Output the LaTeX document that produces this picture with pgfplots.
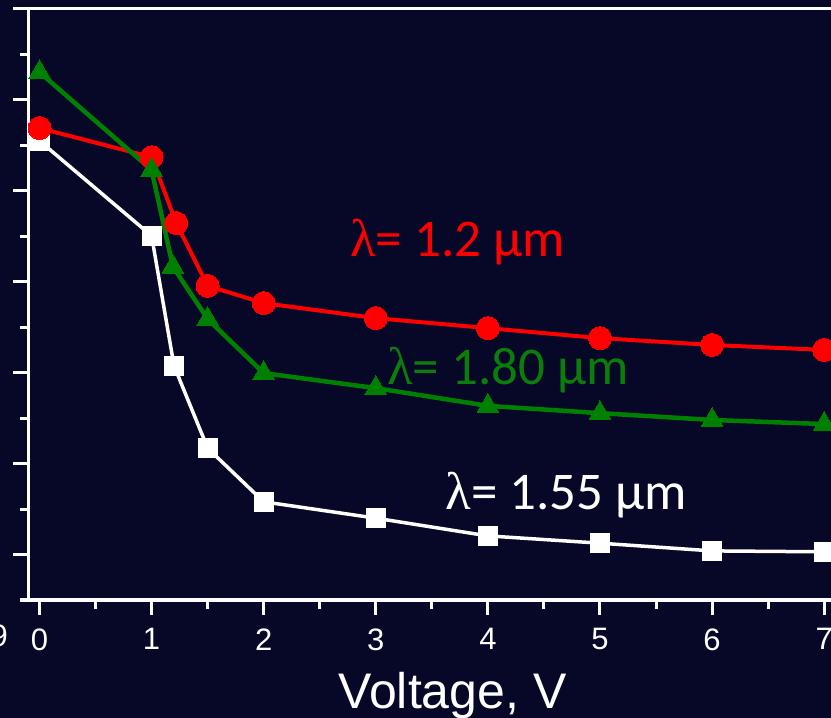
\documentclass[border=0pt]{standalone}
\usepackage{fontspec}
\usepackage{pgfplots}
\pgfplotsset{compat=1.18}
\setmainfont{Liberation Sans}
\newfontfamily\arial{Liberation Sans}
\newfontfamily\calib{Carlito}
\newfontfamily\tms{Liberation Serif}
\definecolor{bg}{RGB}{7,8,40}
\definecolor{gr}{RGB}{0,128,0}
\definecolor{grt}{RGB}{10,125,10}
\begin{document}
\begin{tikzpicture}
\useasboundingbox (0,0) rectangle (831bp,718bp);
\fill[bg] (0,0) rectangle (831bp,718bp);
\clip (0,0) rectangle (831bp,718bp);
\node[anchor=base east, inner sep=0, text=white, font={\arial\fontsize{31bp}{31bp}\selectfont}] at (8bp,71bp) {9};
\begin{axis}[
  at={(28.3bp,118bp)}, anchor=south west,
  width=807.1bp, height=591bp, scale only axis,
  xmin=-0.1, xmax=7.1, ymin=0, ymax=13,
  clip=false,
  axis line style={white, line width=3bp},
  tick style={white, line width=3bp},
  tick align=outside, xtick pos=bottom, ytick pos=left,
  major tick length=15bp, minor tick length=8.5bp,
  xtick={0,1,2,3,4,5,6,7},
  xticklabels={0,1,2,3,4,5,6,7},
  minor xtick={0.5,1.5,2.5,3.5,4.5,5.5,6.5},
  ytick={1,3,5,7,9,11,13},
  yticklabels={},
  minor ytick={0,2,4,6,8,10,12},
  xticklabel style={text=white, yshift=-10bp, font={\arial\fontsize{31bp}{31bp}\selectfont}},
]
\addplot[white, line width=3.5bp, mark=square*, mark size=9.5bp, mark options={fill=white, draw=white, line width=0pt}]
coordinates {(0,10.10) (1,8.01) (1.2,5.15) (1.5,3.34) (2,2.16) (3,1.80) (4,1.41) (5,1.25) (6,1.08) (7,1.06)};
\addplot[red, line width=4bp, mark=*, mark size=11.5bp, mark options={fill=red, draw=red, line width=0pt}]
coordinates {(0,10.38) (1,9.74) (1.22,8.29) (1.5,6.91) (2,6.53) (3,6.20) (4,5.98) (5,5.76) (6,5.61) (7,5.50)};
\addplot[gr, line width=4.5bp, mark=triangle*, mark size=12.5bp, mark options={fill=gr, draw=gr, line width=0pt}]
coordinates {(0,11.61) (1,9.46) (1.19,7.33) (1.5,6.18) (2,4.99) (3,4.66) (4,4.27) (5,4.11) (6,3.96) (7,3.87)};
\node[anchor=base west, inner sep=0, text=red, font={\calib\fontsize{53bp}{53bp}\selectfont}] at (axis cs:2.77,7.55) {{\tms λ}= 1.2 µm};
\node[anchor=base west, inner sep=0, text=grt, font={\calib\fontsize{53bp}{53bp}\selectfont}] at (axis cs:3.10,4.75) {{\tms λ}= 1.80 µm};
\node[anchor=base west, inner sep=0, text=white, font={\calib\fontsize{53bp}{53bp}\selectfont}] at (axis cs:3.62,1.98) {{\tms λ}= 1.55 µm};
\node[anchor=base, inner sep=0, text=white, font={\arial\fontsize{50bp}{50bp}\selectfont}] at (axis cs:3.684,-2.376) {Voltage, V};
\end{axis}
\end{tikzpicture}
\end{document}
